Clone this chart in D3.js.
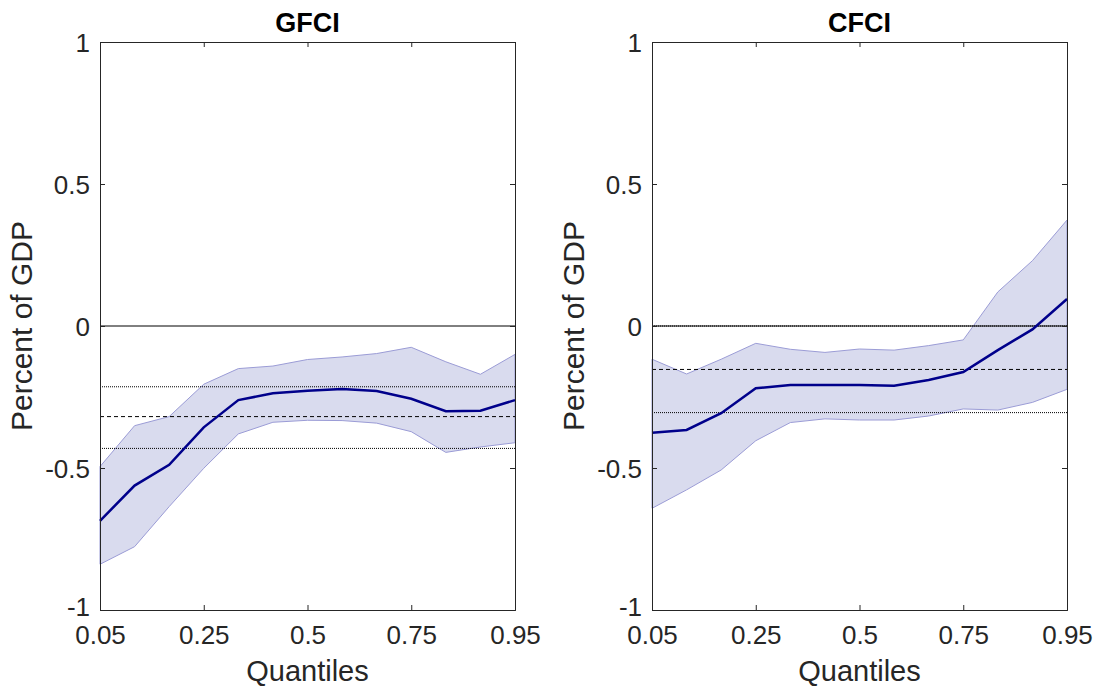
<!DOCTYPE html>
<html>
<head>
<meta charset="utf-8">
<script src="https://cdn.jsdelivr.net/npm/d3@7"></script>
<style>
  body { margin: 0; background: #fff; }
  text { font-family: "Liberation Sans", Arial, Helvetica, sans-serif; }
</style>
</head>
<body>
<div id="chart"></div>
<script>
// Quantiles on the x axis (evenly spaced by index)
const quantiles = [0.05, 0.1, 0.2, 0.25, 0.3, 0.4, 0.5, 0.6, 0.7, 0.75, 0.8, 0.9, 0.95];
const xTickLabels = [0.05, 0.25, 0.5, 0.75, 0.95];
const yTicks = [-1, -0.5, 0, 0.5, 1];

// GFCI
const gfciMedian = [-0.686, -0.562, -0.489, -0.357, -0.261, -0.237, -0.228, -0.222, -0.229, -0.256, -0.300, -0.298, -0.261];
const gfciUpper  = [-0.495, -0.351, -0.319, -0.205, -0.150, -0.141, -0.118, -0.109, -0.097, -0.075, -0.126, -0.170, -0.100];
const gfciLower  = [-0.839, -0.777, -0.636, -0.501, -0.380, -0.339, -0.332, -0.333, -0.342, -0.372, -0.445, -0.426, -0.411];
const gfciRefs   = [{ v: -0.214, dash: '1,1' }, { v: -0.319, dash: '4,3' }, { v: -0.431, dash: '1,1' }];

// CFCI
const cfciMedian = [-0.376, -0.366, -0.307, -0.219, -0.208, -0.208, -0.208, -0.210, -0.190, -0.162, -0.085, -0.012, 0.095];
const cfciUpper  = [-0.117, -0.169, -0.117, -0.061, -0.082, -0.093, -0.081, -0.085, -0.069, -0.049, 0.120, 0.230, 0.373];
const cfciLower  = [-0.642, -0.577, -0.507, -0.404, -0.340, -0.327, -0.331, -0.331, -0.317, -0.292, -0.296, -0.269, -0.223];
const cfciRefs   = [{ v: 0.0, dash: '1,1' }, { v: -0.153, dash: '4,3' }, { v: -0.305, dash: '1,1' }];

const width = 1098;
const height = 690;
const plotTop = 42, plotBottom = 610;

const svg = d3.select('#chart')
  .append('svg')
  .attr('width', width)
  .attr('height', height);

const yScale = d3.scaleLinear().domain([-1, 1]).range([plotBottom, plotTop]);

const panels = [
  { title: 'GFCI', left: 100, right: 515, median: gfciMedian, upper: gfciUpper, lower: gfciLower, refs: gfciRefs },
  { title: 'CFCI', left: 652, right: 1067, median: cfciMedian, upper: cfciUpper, lower: cfciLower, refs: cfciRefs }
];

const axisColor = '#262626';

panels.forEach((p) => {
  const xScale = d3.scalePoint()
    .domain(quantiles)
    .range([p.left, p.right]);

  const g = svg.append('g');

  // confidence band
  const area = d3.area()
    .x((d, i) => xScale(quantiles[i]))
    .y0((d, i) => yScale(p.lower[i]))
    .y1((d, i) => yScale(p.upper[i]));
  g.append('path')
    .datum(p.median)
    .attr('d', area)
    .attr('fill', '#d9dbee')
    .attr('stroke', '#9b9cd6')
    .attr('stroke-width', 1);

  // zero line
  g.append('line')
    .attr('x1', p.left).attr('x2', p.right)
    .attr('y1', yScale(0)).attr('y2', yScale(0))
    .attr('stroke', '#000')
    .attr('stroke-width', 1);

  // reference lines
  g.selectAll('.ref')
    .data(p.refs)
    .enter()
    .append('line')
    .attr('x1', p.left).attr('x2', p.right)
    .attr('y1', (d) => yScale(d.v)).attr('y2', (d) => yScale(d.v))
    .attr('stroke', '#000')
    .attr('stroke-width', 1)
    .attr('stroke-dasharray', (d) => d.dash);

  // median line
  const line = d3.line()
    .x((d, i) => xScale(quantiles[i]))
    .y((d) => yScale(d));
  g.append('path')
    .datum(p.median)
    .attr('d', line)
    .attr('fill', 'none')
    .attr('stroke', '#00008b')
    .attr('stroke-width', 2.5);

  // axes (MATLAB style box with inward ticks)
  const xTickVals = quantiles.filter((q) => xTickLabels.includes(q));
  const xAxis = d3.axisBottom(xScale)
    .tickValues(xTickVals)
    .tickSize(-5)
    .tickFormat((d) => String(d));
  const xg = g.append('g')
    .attr('transform', `translate(0,${plotBottom})`)
    .call(xAxis);

  const xTop = d3.axisTop(xScale).tickValues(xTickVals).tickSize(-5).tickFormat('');
  const xtg = g.append('g').attr('transform', `translate(0,${plotTop})`).call(xTop);

  const yAxis = d3.axisLeft(yScale)
    .tickValues(yTicks)
    .tickSize(-5)
    .tickPadding(10)
    .tickFormat((d) => String(d));
  const yg = g.append('g')
    .attr('transform', `translate(${p.left},0)`)
    .call(yAxis);

  const yRight = d3.axisRight(yScale).tickValues(yTicks).tickSize(-5).tickFormat('');
  const yrg = g.append('g').attr('transform', `translate(${p.right},0)`).call(yRight);

  [xg, xtg, yg, yrg].forEach((a) => {
    a.select('.domain').attr('stroke', axisColor).attr('stroke-width', 1);
    a.selectAll('.tick line').attr('stroke', axisColor);
    a.selectAll('.tick text')
      .attr('fill', axisColor)
      .style('font-size', '26px')
      .style('font-family', '"Liberation Sans", Arial, sans-serif');
  });
  xg.selectAll('.tick text').attr('y', 34).attr('dy', 0);
  yg.selectAll('.tick text').attr('dy', '0.36em');
  yg.selectAll('.tick text').filter((d) => d === -1).attr('dy', '0.2em');

  // title
  g.append('text')
    .attr('x', (p.left + p.right) / 2)
    .attr('y', 32)
    .attr('text-anchor', 'middle')
    .style('font-size', '27px')
    .style('font-weight', 'bold')
    .attr('fill', '#000')
    .text(p.title);

  // x label
  g.append('text')
    .attr('x', (p.left + p.right) / 2)
    .attr('y', 681)
    .attr('text-anchor', 'middle')
    .style('font-size', '29px')
    .attr('fill', axisColor)
    .text('Quantiles');

  // y label
  g.append('text')
    .attr('transform', `translate(${p.left - 68},${yScale(0)}) rotate(-90)`)
    .attr('text-anchor', 'middle')
    .style('font-size', '30px')
    .attr('fill', axisColor)
    .text('Percent of GDP');
});
</script>
</body>
</html>
